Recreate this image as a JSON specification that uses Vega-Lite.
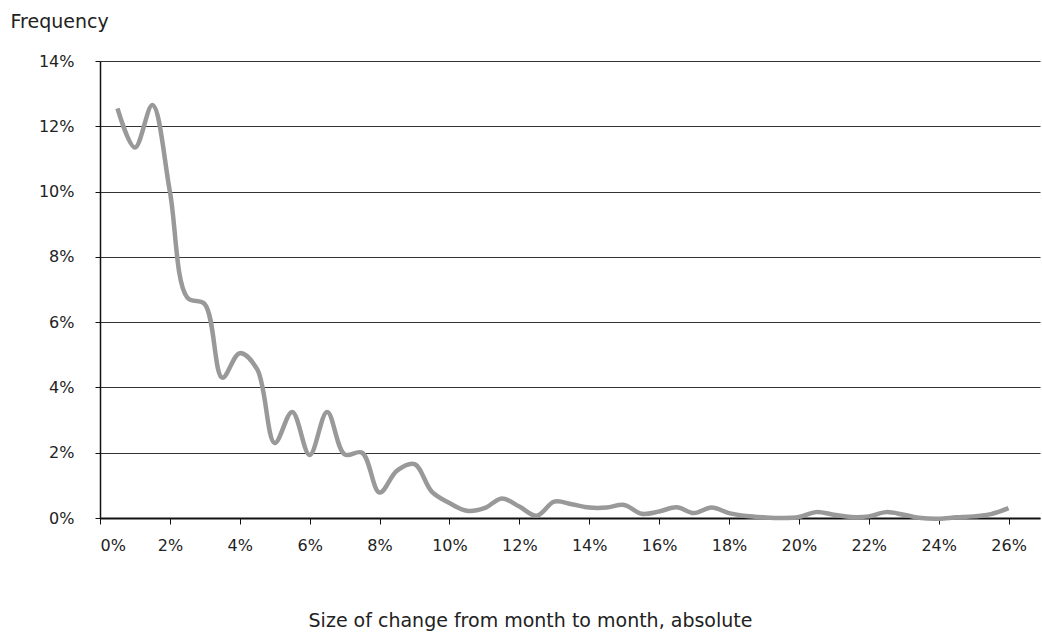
{
  "$schema": "https://vega.github.io/schema/vega-lite/v6.json",
  "width": 940,
  "height": 457,
  "autosize": {"type": "none"},
  "padding": {"left": 100, "top": 61, "right": 2, "bottom": 117},
  "background": "white",
  "config": {
    "view": {"stroke": null},
    "font": "DejaVu Sans",
    "axis": {"labelFont": "DejaVu Sans", "titleFont": "DejaVu Sans", "labelColor": "#222", "titleColor": "#222", "titleFontWeight": "normal"}
  },
  "data": {
    "values": [
      {"x": 0.5, "y": 12.55},
      {"x": 1.0, "y": 11.35},
      {"x": 1.5, "y": 12.65},
      {"x": 2.0, "y": 10.0},
      {"x": 2.5, "y": 6.75},
      {"x": 3.0, "y": 6.55},
      {"x": 3.5, "y": 4.3},
      {"x": 4.0, "y": 5.05},
      {"x": 4.5, "y": 4.55},
      {"x": 5.0, "y": 2.3},
      {"x": 5.5, "y": 3.25},
      {"x": 6.0, "y": 1.93},
      {"x": 6.5, "y": 3.25},
      {"x": 7.0, "y": 1.95},
      {"x": 7.5, "y": 2.0},
      {"x": 8.0, "y": 0.78},
      {"x": 8.5, "y": 1.45},
      {"x": 9.0, "y": 1.65},
      {"x": 9.5, "y": 0.8},
      {"x": 10.0, "y": 0.46},
      {"x": 10.5, "y": 0.22},
      {"x": 11.0, "y": 0.3},
      {"x": 11.5, "y": 0.6},
      {"x": 12.0, "y": 0.35},
      {"x": 12.5, "y": 0.07},
      {"x": 13.0, "y": 0.5},
      {"x": 13.5, "y": 0.42},
      {"x": 14.0, "y": 0.32},
      {"x": 14.5, "y": 0.32},
      {"x": 15.0, "y": 0.4},
      {"x": 15.5, "y": 0.13},
      {"x": 16.0, "y": 0.2},
      {"x": 16.5, "y": 0.33},
      {"x": 17.0, "y": 0.15},
      {"x": 17.5, "y": 0.32},
      {"x": 18.0, "y": 0.15},
      {"x": 18.5, "y": 0.06},
      {"x": 19.0, "y": 0.02},
      {"x": 19.5, "y": 0.0},
      {"x": 20.0, "y": 0.03},
      {"x": 20.5, "y": 0.18},
      {"x": 21.0, "y": 0.1},
      {"x": 21.5, "y": 0.03},
      {"x": 22.0, "y": 0.05},
      {"x": 22.5, "y": 0.18},
      {"x": 23.0, "y": 0.1},
      {"x": 23.5, "y": 0.0},
      {"x": 24.0, "y": -0.02},
      {"x": 24.5, "y": 0.02},
      {"x": 25.0, "y": 0.05},
      {"x": 25.5, "y": 0.12},
      {"x": 26.0, "y": 0.3}
    ]
  },
  "mark": {"type": "line", "interpolate": "catmull-rom", "color": "#999999", "strokeWidth": 4.5, "clip": false},
  "encoding": {
    "x": {
      "field": "x",
      "type": "quantitative",
      "scale": {"domain": [0, 26.9], "nice": false, "zero": true},
      "axis": {
        "title": "Size of change from month to month, absolute",
        "values": [0, 2, 4, 6, 8, 10, 12, 14, 16, 18, 20, 22, 24, 26],
        "labelExpr": "datum.value + '%'",
        "labelFontSize": 16,
        "labelPadding": 13,
        "tickSize": 6,
        "tickColor": "#111",
        "domainColor": "#111",
        "domainWidth": 2,
        "grid": false,
        "titleFontSize": 19,
        "titleX": 430,
        "titleY": 93,
        "titleAlign": "center",
        "titleBaseline": "top"
      }
    },
    "y": {
      "field": "y",
      "type": "quantitative",
      "scale": {"domain": [0, 14], "nice": false},
      "axis": {
        "title": "Frequency",
        "values": [0, 2, 4, 6, 8, 10, 12, 14],
        "labelExpr": "datum.value + '%'",
        "labelFontSize": 16,
        "labelPadding": 21,
        "tickSize": 5,
        "tickColor": "#111",
        "domainColor": "#111",
        "domainWidth": 1.5,
        "grid": true,
        "gridColor": "#333",
        "gridWidth": 1,
        "gridOpacity": 1,
        "titleFontSize": 19,
        "titleAngle": 0,
        "titleX": -90,
        "titleY": -40,
        "titleAlign": "left",
        "titleBaseline": "middle"
      }
    }
  }
}
